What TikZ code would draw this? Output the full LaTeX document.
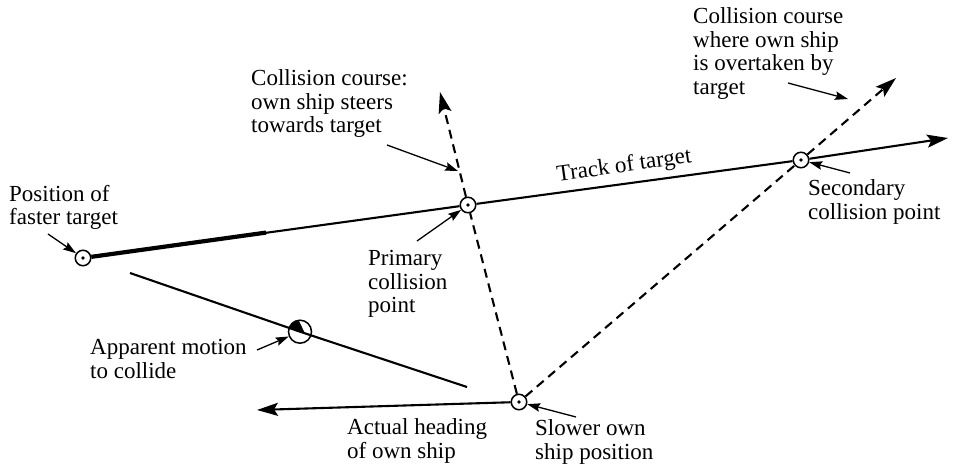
\documentclass[tikz,border=0pt]{standalone}
\usepackage{fontspec}
\setmainfont{Liberation Serif}
\usetikzlibrary{arrows.meta}
\begin{document}
\begin{tikzpicture}[x=1pt,y=-1pt,
  ship/.style={circle,draw,line width=1.5pt,minimum size=15.5pt,inner sep=0pt,
    path picture={\fill (path picture bounding box.center) circle (1.9pt);}},
  lbl/.style={anchor=north west,align=left,inner sep=0pt,
    font=\fontsize{23}{23.5}\selectfont},
  mainline/.style={line width=2.1pt},
  dashline/.style={line width=2.1pt,dash pattern=on 9pt off 6pt},
  bighead/.style={-{Stealth[length=21pt,width=13pt,inset=4pt]}},
  leader/.style={line width=1.3pt,-{Stealth[length=13pt,width=8.5pt,inset=2pt]}}]
\useasboundingbox (0,0) rectangle (954,468);
% ship nodes
\node[ship] (ft) at (83,258) {};
\node[ship] (pc) at (468,205) {};
\node[ship] (sc) at (801,160) {};
\node[ship] (os) at (519,402) {};
\node[circle,draw,line width=1.5pt,minimum size=23pt,inner sep=0pt] (ap) at (300,331.7) {};
% coordinates
\coordinate (tE) at (948,138);
\coordinate (th) at (266,232.6);
\coordinate (d1) at (440,92);
\coordinate (d2) at (896,78);
\coordinate (hE) at (257,410);
\coordinate (a1) at (130,273);
\coordinate (a2) at (467,387);
% track of target
\draw[mainline] (ft) -- (pc);
\draw[line width=4.2pt] (ft) -- (th);
\draw[mainline] (pc) -- (sc);
\draw[mainline,bighead] (sc) -- (tE);
% collision courses
\draw[dashline] (os) -- (pc);
\draw[dashline,bighead] (pc) -- (d1);
\draw[dashline] (os) -- (sc);
\draw[dashline,bighead] (sc) -- (d2);
% actual heading
\draw[mainline,bighead] (os) -- (hE);
% apparent motion
\draw[mainline] (a1) -- (ap.center) -- (a2);
\begin{scope}
\clip (ap.center) circle (11pt);
\fill (284,326.3) -- (297,317) -- (305,333.4) -- cycle;
\end{scope}
% labels
\node[lbl] (tft) at (9,185) {Position of\\faster target};
\node[lbl] (tcc) at (251,69.5) {Collision course:\\own ship steers\\towards target};
\node[lbl] (tpc) at (368,250.5) {Primary\\collision\\point};
\node[lbl] (tov) at (693,7.5) {Collision course\\where own ship\\is overtaken by\\target};
\node[lbl] (tsc) at (808,179.5) {Secondary\\collision point};
\node[lbl] (tap) at (90,339.5) {Apparent motion\\to collide};
\node[lbl] (tah) at (347,418.5) {Actual heading\\of own ship};
\node[lbl] (tso) at (535,419.5) {Slower own\\ship position};
\node[rotate=8,anchor=base,inner sep=0pt,font=\fontsize{23}{23.5}\selectfont] (ttr) at (625,172) {Track of target};
% leaders
\coordinate (l1) at (48,234);
\coordinate (l2) at (387,145);
\coordinate (l2t) at (458,171);
\coordinate (l3) at (417,241);
\coordinate (l4) at (788,83);
\coordinate (l4t) at (848,99);
\coordinate (l5) at (850,173);
\coordinate (l6) at (257,350);
\coordinate (l7) at (576,417);
\draw[leader] (l1) -- (ft);
\draw[leader] (l2) -- (l2t);
\draw[leader] (l3) -- (pc);
\draw[leader] (l4) -- (l4t);
\draw[leader] (l5) -- (sc);
\draw[leader] (l6) -- (ap);
\draw[leader] (l7) -- (os);
\end{tikzpicture}
\end{document}
